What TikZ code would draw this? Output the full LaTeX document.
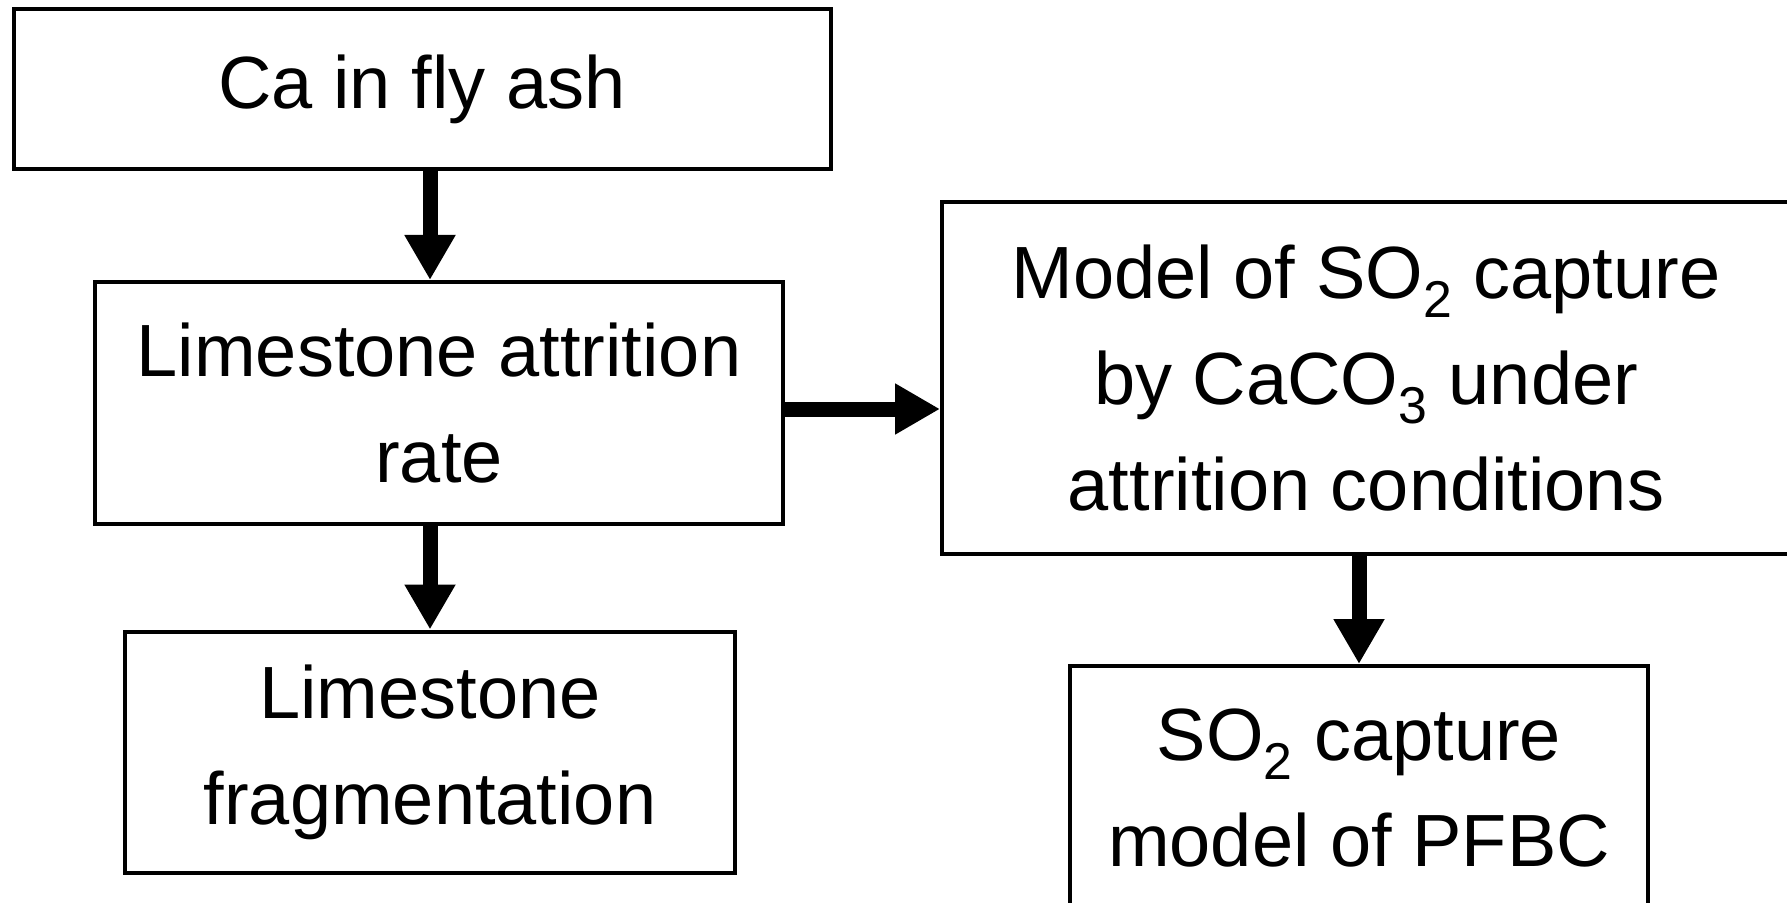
\documentclass[tikz,border=0pt]{standalone}
\usepackage{fontspec}
\setmainfont{Liberation Sans}
\usetikzlibrary{arrows.meta,positioning}

\begin{document}
\begin{tikzpicture}[
  font=\fontsize{37}{53}\selectfont,
  >={Triangle[length=22.5pt,width=24pt]},
  box/.style={draw, line width=2pt, align=center, inner sep=0pt},
  flow/.style={->, line width=7.5pt}]

  \useasboundingbox (0,0) rectangle (893.5pt,-451.5pt);

  % --- left column: attrition ---
  \node[box, minimum width=408.5pt, minimum height=80pt] (ca) at (211pt,-44.5pt) {Ca in fly ash};
  \node[box, minimum width=344pt, minimum height=121pt] (rate) at (219.5pt,-201.5pt) {Limestone attrition\\rate};
  \node[box, minimum width=305pt, minimum height=120.5pt] (frag) at (215pt,-376pt) {Limestone\\fragmentation};

  % --- right column: SO2 capture ---
  \node[box, minimum width=424pt, minimum height=176pt] (model) at (683pt,-189pt)
    {Model of SO\textsubscript{2} capture\\by CaCO\textsubscript{3} under\\attrition conditions};
  \node[box, minimum width=289pt, minimum height=122pt] (so2) at (679.5pt,-394pt)
    {SO\textsubscript{2} capture\\model of PFBC};

  \draw[flow] (ca.south -| frag) -- (rate.north -| frag);
  \draw[flow] (rate.south -| frag) -- (frag.north);
  \draw[flow] ([yshift=-3pt]rate.east) -- ([yshift=-3pt]rate.east -| model.west);
  \draw[flow] (model.south -| so2) -- (so2.north);
\end{tikzpicture}
\end{document}
